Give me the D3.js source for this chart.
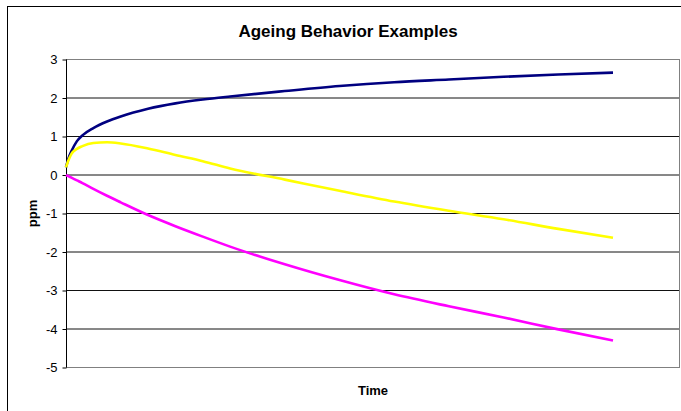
<!DOCTYPE html>
<html>
<head>
<meta charset="utf-8">
<script src="https://cdn.jsdelivr.net/npm/d3@7"></script>
<style>
  body { margin: 0; background: #fff; }
  svg { display: block; font-family: "Liberation Sans", Arial, sans-serif; }
</style>
</head>
<body>
<script>
// time in arbitrary units, 0..100
const times = [0, 0.5, 1, 2, 3, 5, 7.5, 10, 15, 20, 25, 30, 40, 50, 60, 70, 80, 90, 100];
const blueVals = [0.2, 0.45, 0.62, 0.88, 1.03, 1.22, 1.39, 1.52, 1.72, 1.86, 1.96, 2.04, 2.18, 2.31, 2.41, 2.48, 2.55, 2.61, 2.66];
const yellowVals = [0.2, 0.4, 0.55, 0.68, 0.75, 0.83, 0.85, 0.82, 0.69, 0.52, 0.36, 0.17, -0.12, -0.41, -0.69, -0.93, -1.15, -1.4, -1.63];
const magentaVals = [0, -0.035, -0.07, -0.14, -0.21, -0.36, -0.54, -0.71, -1.04, -1.33, -1.6, -1.86, -2.32, -2.73, -3.1, -3.41, -3.7, -4.01, -4.3];
const yTicks = [3, 2, 1, 0, -1, -2, -3, -4, -5];

const w = 681, h = 411;
const plotLeft = 66, plotRight = 680, plotTop = 59.5, plotBottom = 367.5;
const lineEnd = 613;

const svg = d3.select("body").append("svg")
  .attr("width", w)
  .attr("height", h);

// chart border
svg.append("rect")
  .attr("x", 7.5).attr("y", 6.5)
  .attr("width", 700).attr("height", 420)
  .attr("fill", "#fff").attr("stroke", "#000").attr("stroke-width", 1);

const xScale = d3.scaleLinear().domain([0, 100]).range([plotLeft, lineEnd]);
const yScale = d3.scaleLinear().domain([-5, 3]).range([plotBottom, plotTop]);

// gridlines
svg.append("g").selectAll("line").data(yTicks).enter().append("line")
  .attr("x1", plotLeft).attr("x2", plotRight)
  .attr("y1", d => yScale(d)).attr("y2", d => yScale(d))
  .attr("stroke", d => (d === 3 || d === -5) ? "#808080" : "#111")
  .attr("stroke-width", 1);

// right edge of plot area
svg.append("line")
  .attr("x1", plotRight - 0.5).attr("x2", plotRight - 0.5)
  .attr("y1", plotTop).attr("y2", plotBottom)
  .attr("stroke", "#808080");

// y axis
const yAxis = d3.axisLeft(yScale).tickValues(yTicks).tickSize(4).tickPadding(5).tickFormat(d => String(d));
const gy = svg.append("g").attr("transform", "translate(" + (plotLeft + 0.5) + ",0)").call(yAxis);
gy.select(".domain").attr("d", "M0," + plotTop + "V" + plotBottom).attr("stroke", "#000");
gy.selectAll(".tick line").attr("stroke", "#000");
gy.selectAll("text").attr("font-size", 13).attr("fill", "#000")
  .attr("font-family", "Liberation Sans, Arial, sans-serif");

// lines
const series = [
  { vals: blueVals, color: "#000080" },
  { vals: yellowVals, color: "#ffff00" },
  { vals: magentaVals, color: "#ff00ff" }
];
const line = d3.line()
  .x((d, i) => xScale(times[i]))
  .y(d => yScale(d))
  .curve(d3.curveMonotoneX);

series.forEach(s => {
  svg.append("path")
    .datum(s.vals)
    .attr("d", line)
    .attr("fill", "none")
    .attr("stroke", s.color)
    .attr("stroke-width", 2.6);
});

// title and axis labels
svg.append("text")
  .attr("x", 348).attr("y", 37)
  .attr("text-anchor", "middle")
  .attr("font-size", 17).attr("font-weight", "bold")
  .text("Ageing Behavior Examples");

svg.append("text")
  .attr("x", (plotLeft + plotRight) / 2).attr("y", 395)
  .attr("text-anchor", "middle")
  .attr("font-size", 13).attr("font-weight", "bold")
  .text("Time");

svg.append("text")
  .attr("transform", "translate(37," + ((plotTop + plotBottom) / 2) + ") rotate(-90)")
  .attr("text-anchor", "middle")
  .attr("font-size", 13).attr("font-weight", "bold")
  .text("ppm");
</script>
</body>
</html>
